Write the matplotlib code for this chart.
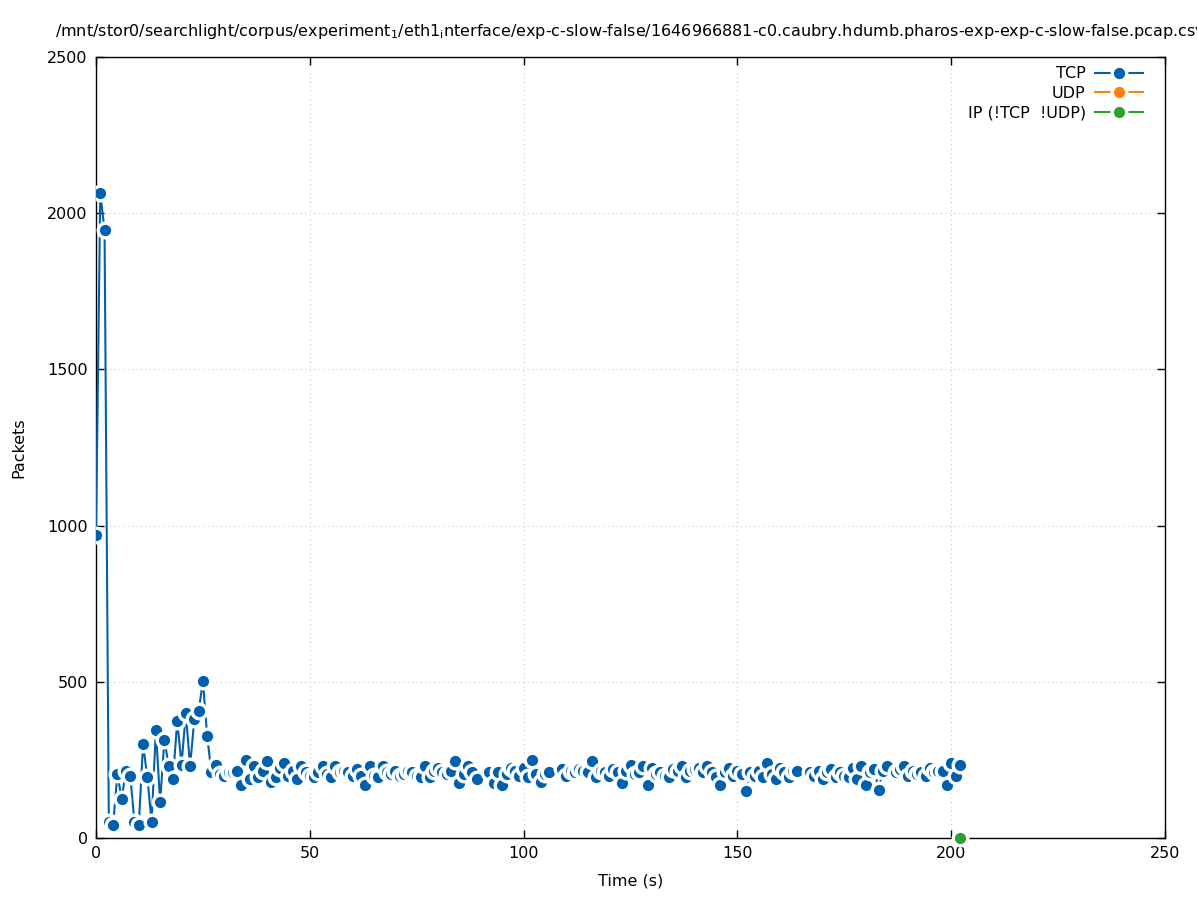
import numpy as np
import matplotlib
matplotlib.use("Agg")
import matplotlib.pyplot as plt

nan = np.nan

# packets per second (TCP), one sample per second from t=0 to t=202
tcp_time = np.arange(0, 203)
tcp_packets = [
    970, 2065, 1945, 50, 40, 205, 125, 215, 200, 50,
    40, 300, 195, 50, 345, 115, 315, 230, 190, 375,
    235, 400, 230, 380, 405, 503, 325, 210, 235, 205,
    200, 210, 210, 215, 170, 250, 190, 230, 195, 215,
    245, 180, 195, 225, 240, 200, 215, 190, 230, 210,
    200, 195, 210, 230, 205, 195, 230, 210, 215, 210,
    200, 220, 200, 170, 230, 200, 195, 230, 210, 205,
    215, 200, 205, 215, 210, 200, 195, 230, 195, 215,
    225, 210, 205, 215, 245, 175, 205, 230, 210, 188,
    nan, nan, 210, 175, 210, 170, 205, 225, 215, 200,
    225, 195, 250, 205, 180, 205, 210, nan, nan, 220,
    200, 215, 210, 220, 215, 210, 245, 195, 215, 210,
    200, 220, 210, 175, 215, 235, 205, 210, 230, 170,
    225, 205, 210, 200, 195, 220, 215, 230, 195, 215,
    220, 225, 210, 230, 210, 195, 170, 210, 225, 200,
    215, 205, 150, 210, 200, 215, 195, 240, 205, 190,
    225, 210, 195, 215, 215, nan, nan, 210, 200, 215,
    190, 210, 220, 195, 210, 200, 195, 225, 190, 230,
    170, 210, 220, 155, 215, 230, nan, 210, 220, 230,
    200, 215, 205, 210, 200, 225, 210, 215, 215, 170,
    240, 200, 235,
]

udp_time = []
udp_packets = []

ip_time = [202]
ip_packets = [0]

title = ("/mnt/stor0/searchlight/corpus/experiment$_1$/eth1$_i$nterface/"
         "exp-c-slow-false/1646966881-c0.caubry.hdumb.pharos-exp-exp-c-slow-false.pcap.csv")

plt.rcParams['font.family'] = ['DejaVu Sans']
plt.rcParams['mathtext.default'] = 'regular'

fig = plt.figure(figsize=(11.97, 9), dpi=100)
ax = fig.add_axes([0.0802, 0.0689, 0.8931, 0.8678])

blue = '#0060ad'
orange = '#ff7f0e'
green = '#2ca02c'
fs = 11.5

ax.plot(tcp_time, tcp_packets, color=blue, lw=1.5, marker='o', ms=10.5,
        mfc=blue, mec='white', mew=2.4, label='TCP', zorder=3)
ax.plot(udp_time, udp_packets, color=orange, lw=1.5, marker='o', ms=10.5,
        mfc=orange, mec='white', mew=2.4, label='UDP', zorder=3)
ax.plot(ip_time, ip_packets, color=green, lw=1.5, marker='o', ms=10.5,
        mfc=green, mec='white', mew=2.4, label='IP (!TCP  !UDP)',
        zorder=4, clip_on=False)

ax.set_xlim(0, 250)
ax.set_ylim(0, 2500)
ax.set_xticks([0, 50, 100, 150, 200, 250])
ax.set_yticks([0, 500, 1000, 1500, 2000, 2500])
ax.tick_params(direction='in', length=6, width=1, top=True, right=True,
               labelsize=fs, pad=6)
ax.grid(True, color='#c8c8c8', linestyle=(0, (1, 3)), lw=0.8)
for s in ax.spines.values():
    s.set_linewidth(1)

ax.set_xlabel('Time (s)', fontsize=fs, labelpad=9)
ax.set_ylabel('Packets', fontsize=fs, labelpad=15)
ax.set_title(title, fontsize=fs, pad=15)

leg = ax.legend(loc='upper right', bbox_to_anchor=(0.9855, 0.996),
                frameon=False, markerfirst=False,
                fontsize=fs, handlelength=3, numpoints=1,
                borderaxespad=0.0, labelspacing=0.27, handletextpad=0.6)
for t in leg.get_texts():
    t.set_ha('right')
leg._legend_box.align = 'right'

fig.savefig('out.png', dpi=100)
